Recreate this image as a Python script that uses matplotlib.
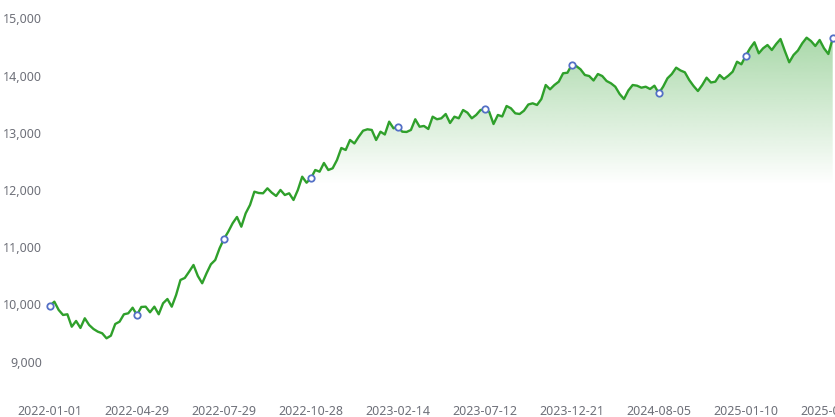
import numpy as np
import matplotlib
matplotlib.use("Agg")
import matplotlib.pyplot as plt
from matplotlib.ticker import FuncFormatter

# ---- data ----
values = [
    9976, 10046, 9901, 9814, 9826, 9609, 9709, 9587, 9756, 9639,
    9569, 9522, 9494, 9406, 9452, 9656, 9697, 9826, 9843, 9941,
    9814, 9954, 9959, 9861, 9959, 9826, 10018, 10093, 9959, 10163,
    10426, 10461, 10571, 10688, 10495, 10368, 10543, 10700, 10775, 10980,
    11142, 11270, 11417, 11527, 11357, 11591, 11737, 11969, 11946, 11941,
    12028, 11952, 11894, 11999, 11911, 11941, 11824, 11999, 12231, 12126,
    12203, 12348, 12319, 12471, 12348, 12378, 12523, 12733, 12698, 12873,
    12812, 12930, 13035, 13060, 13048, 12873, 13018, 12969, 13193, 13077,
    13105, 13018, 13013, 13048, 13235, 13105, 13118, 13065, 13280, 13235,
    13252, 13327, 13170, 13280, 13252, 13397, 13350, 13252, 13310, 13397,
    13409, 13367, 13152, 13310, 13284, 13467, 13427, 13339, 13327, 13385,
    13493, 13514, 13485, 13589, 13834, 13759, 13834, 13892, 14039, 14049,
    14189, 14166, 14109, 14009, 13991, 13913, 14026, 13991, 13904, 13864,
    13804, 13677, 13589, 13738, 13834, 13822, 13787, 13804, 13764, 13822,
    13689, 13804, 13951, 14026, 14137, 14088, 14056, 13922, 13817, 13729,
    13834, 13962, 13878, 13892, 14009, 13939, 13997, 14067, 14241, 14196,
    14346, 14476, 14581, 14388, 14476, 14533, 14446, 14551, 14638, 14428,
    14231, 14359, 14437, 14563, 14661, 14603, 14516, 14621, 14476, 14376,
    14650,
]
tick_labels = ["2022-01-01", "2022-04-29", "2022-07-29", "2022-10-28",
               "2023-02-14", "2023-07-12", "2023-12-21", "2024-08-05",
               "2025-01-10", "2025-06-06"]
marker_step = 20
y_ticks = [9000, 10000, 11000, 12000, 13000, 14000, 15000]

# ---- style ----
plt.rcParams['font.family'] = ['Noto Sans', 'DejaVu Sans']
LINE = '#2fa02b'
MARK = '#5470c6'
LABEL = '#6e7079'

W, H = 835, 417
fig = plt.figure(figsize=(W / 100, H / 100), dpi=100)
ax_left, ax_right = 50, 835
ax_top, ax_bottom = 18.3, 397
ax = fig.add_axes([ax_left / W, (H - ax_bottom) / H,
                   (ax_right - ax_left) / W, (ax_bottom - ax_top) / H])

x = np.arange(len(values))
vals = np.array(values, dtype=float)
y_min, y_max = 8380, 15000
x_max = (len(values) - 1) + (835 - 832.7) / 4.3485
ax.set_xlim(0, x_max)
ax.set_ylim(y_min, y_max)

# gradient area under line
poly = ax.fill_between(x, vals, y_min, facecolor='none', edgecolor='none')
top = vals.max()
fade = 12086
ny = 400
yy = np.linspace(top, y_min, ny)
alpha = np.clip((yy - fade) / (top - fade), 0, 1) * 0.40
img = np.zeros((ny, 1, 4))
img[..., 0] = 0x2c / 255
img[..., 1] = 0xa0 / 255
img[..., 2] = 0x2c / 255
img[:, 0, 3] = alpha
im = ax.imshow(img, extent=[0, x_max, y_min, top], aspect='auto',
               origin='upper', zorder=1, interpolation='bilinear')
im.set_clip_path(poly.get_paths()[0], transform=ax.transData)

ax.plot(x, vals, color=LINE, lw=1.7, zorder=3, solid_joinstyle='round')
mx = x[::marker_step]
ax.plot(mx, vals[::marker_step], linestyle='none', marker='o', ms=4.6,
        mfc='white', mec=MARK, mew=1.3, zorder=4, clip_on=False)

for s in ax.spines.values():
    s.set_visible(False)
ax.set_xticks(mx)
ax.set_xticklabels(tick_labels)
ax.set_yticks(y_ticks)
ax.yaxis.set_major_formatter(FuncFormatter(lambda v, p: f"{int(v):,}"))
ax.tick_params(axis='both', length=0, labelsize=9, colors=LABEL)
ax.tick_params(axis='y', pad=5.8)
ax.tick_params(axis='x', pad=5.8)
ax.grid(False)

fig.savefig("out.png", dpi=100)
